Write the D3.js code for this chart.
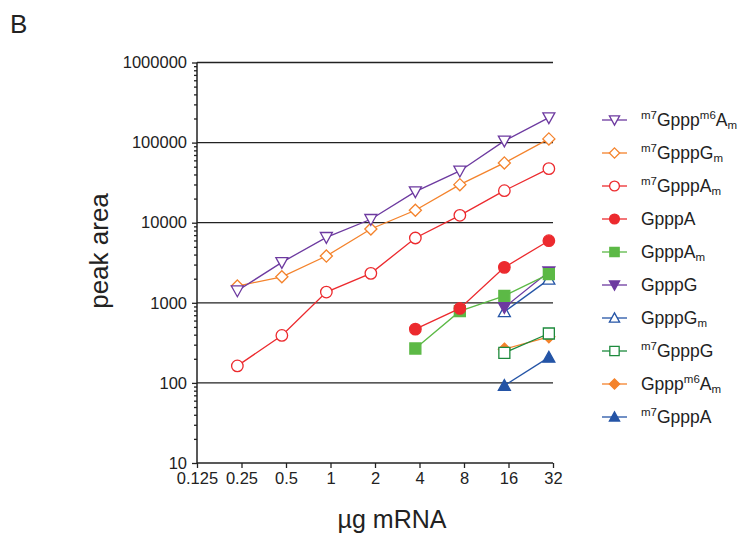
<!DOCTYPE html>
<html><head><meta charset="utf-8">
<script src="https://cdn.jsdelivr.net/npm/d3@7"></script>
<style>body{margin:0;background:#fff}svg{font-family:"Liberation Sans",Arial,sans-serif}</style>
</head><body><svg id="c" width="750" height="537"></svg>
<script>
const xDoses = [0.234375, 0.46875, 0.9375, 1.875, 3.75, 7.5, 15, 30];
const xTicks = [0.125, 0.25, 0.5, 1, 2, 4, 8, 16, 32];
const yTicks = [10, 100, 1000, 10000, 100000, 1000000];

const s_m7Gpppm6Am = [1413, 3200, 6570, 11030, 24400, 44260, 105000, 205000];
const s_m7GpppGm   = [1617, 2113, 3835, 8340, 14290, 29850, 55700, 111200];
const s_m7GpppAm   = [163, 391, 1361, 2330, 6440, 12370, 25100, 47300];
const s_GpppA      = [null, null, null, null, 469, 851, 2770, 5957];
const s_GpppAm     = [null, null, null, null, 269, 787, 1223, 2285];
const s_GpppG      = [null, null, null, null, null, null, 876, 2440];
const s_GpppGm     = [null, null, null, null, null, null, 772, 1961];
const s_m7GpppG    = [null, null, null, null, null, null, 237, 414];
const s_Gpppm6Am   = [null, null, null, null, null, null, 264, 376];
const s_m7GpppA    = [null, null, null, null, null, null, 92.8, 208];

// label parts: [text, 'sup'|'sub'|'']
const series = [
  {label:[["m7","sup"],["Gppp",""],["m6","sup"],["A",""],["m","sub"]], values:s_m7Gpppm6Am, color:"#6d3aa0", shape:"tridown", fill:false},
  {label:[["m7","sup"],["GpppG",""],["m","sub"]], values:s_m7GpppGm, color:"#f4832c", shape:"diamond", fill:false},
  {label:[["m7","sup"],["GpppA",""],["m","sub"]], values:s_m7GpppAm, color:"#ec2a2e", shape:"circle", fill:false},
  {label:[["GpppA",""]], values:s_GpppA, color:"#ec2a2e", shape:"circle", fill:true},
  {label:[["GpppA",""],["m","sub"]], values:s_GpppAm, color:"#5cb946", shape:"square", fill:true},
  {label:[["GpppG",""]], values:s_GpppG, color:"#6d3aa0", shape:"tridown", fill:true},
  {label:[["GpppG",""],["m","sub"]], values:s_GpppGm, color:"#2454a6", shape:"triup", fill:false},
  {label:[["m7","sup"],["GpppG",""]], values:s_m7GpppG, color:"#1d8a3d", shape:"square", fill:false},
  {label:[["Gppp",""],["m6","sup"],["A",""],["m","sub"]], values:s_Gpppm6Am, color:"#f4832c", shape:"diamond", fill:true},
  {label:[["m7","sup"],["GpppA",""]], values:s_m7GpppA, color:"#2454a6", shape:"triup", fill:true}
];

const svg = d3.select("#c");
const x = d3.scaleLog().base(2).domain([0.125, 32]).range([197, 553]);
const y = d3.scaleLog().domain([10, 1000000]).range([463, 62.5]);

// gridlines
svg.append("g").selectAll("line").data(yTicks.slice(1)).join("line")
  .attr("x1", 197).attr("x2", 553).attr("y1", d=>y(d)).attr("y2", d=>y(d))
  .attr("stroke", "#222").attr("stroke-width", 1.3);

// y axis with minor ticks
const minor = [];
for (let e = 1; e < 6; e++) for (let k = 2; k <= 9; k++) minor.push(k*Math.pow(10,e));
const yAxisG = svg.append("g").attr("transform","translate(197,0)");
yAxisG.call(d3.axisLeft(y).tickValues(minor).tickSize(3).tickFormat(""));
yAxisG.call(g=>g.select(".domain").remove());
const yMaj = svg.append("g").attr("transform","translate(197,0)")
  .call(d3.axisLeft(y).tickValues(yTicks).tickSize(5).tickPadding(5).tickFormat(d3.format("d")));
yMaj.select(".domain").attr("d", `M0,${y(1000000)}V${y(10)}`);
svg.selectAll("g .tick line").attr("stroke","#222").attr("stroke-width",1.3);
yMaj.select(".domain").attr("stroke","#222").attr("stroke-width",1.5);
yMaj.selectAll("text").attr("font-size",16.5).attr("fill","#222").attr("font-family","Liberation Sans, Arial, sans-serif");

// x axis
const xAx = svg.append("g").attr("transform","translate(0,463)")
  .call(d3.axisBottom(x).tickValues(xTicks).tickSize(5).tickPadding(4).tickFormat(d=>String(d)));
xAx.select(".domain").attr("d","M197,0H553").attr("stroke","#222").attr("stroke-width",1.5);
xAx.selectAll(".tick line").attr("stroke","#222").attr("stroke-width",1.3);
xAx.selectAll("text").attr("font-size",16.5).attr("fill","#222").attr("font-family","Liberation Sans, Arial, sans-serif");

// symbols
function symPath(shape, size) {
  const s = size;
  if (shape==="circle") return d3.symbol(d3.symbolCircle, s*s*Math.PI/4)();
  if (shape==="square") return `M${-s/2},${-s/2}h${s}v${s}h${-s}Z`;
  if (shape==="diamond") { const h=s*0.55; return `M0,${-h}L${h},0L0,${h}L${-h},0Z`; }
  if (shape==="triup") { const h=s*0.5; return `M0,${-h}L${h},${h*0.8}L${-h},${h*0.8}Z`; }
  if (shape==="tridown") { const h=s*0.5; return `M0,${h}L${h},${-h*0.8}L${-h},${-h*0.8}Z`; }
}
const sizes = {circle:11.5, square:11, diamond:11, triup:12, tridown:12};

// lines and points, drawn bottom series first
series.slice().reverse().forEach(s => {
  const pts = xDoses.map((d,i)=>({x:d, v:s.values[i]})).filter(p=>p.v!=null);
  svg.append("path").datum(pts)
    .attr("d", d3.line().x(p=>x(p.x)).y(p=>y(p.v)))
    .attr("fill","none").attr("stroke",s.color).attr("stroke-width",1.3);
  svg.append("g").selectAll("path").data(pts).join("path")
    .attr("transform", p=>`translate(${x(p.x)},${y(p.v)})`)
    .attr("d", symPath(s.shape, sizes[s.shape]))
    .attr("fill", s.fill ? s.color : "#fff")
    .attr("stroke", s.color).attr("stroke-width", 1.3);
});

// legend
const lg = svg.append("g");
series.forEach((s,i) => {
  const yy = 120 + i*33;
  lg.append("line").attr("x1",602).attr("x2",627).attr("y1",yy).attr("y2",yy)
    .attr("stroke",s.color).attr("stroke-width",1.3);
  lg.append("path").attr("transform",`translate(614.5,${yy})`)
    .attr("d", symPath(s.shape, sizes[s.shape]*0.85))
    .attr("fill", s.fill ? s.color : "#fff").attr("stroke",s.color).attr("stroke-width",1.3);
  const t = lg.append("text").attr("x",641).attr("y",yy+6).attr("font-size",17.5).attr("fill","#222");
  s.label.forEach(([txt,kind]) => {
    const ts = t.append("tspan").text(txt);
    if (kind==="sup") ts.attr("font-size",11.5).attr("baseline-shift","55%");
    if (kind==="sub") ts.attr("font-size",11.5).attr("baseline-shift","-25%");
  });
});

// titles
svg.append("text").attr("x",10).attr("y",33).attr("font-size",26).attr("fill","#222").text("B");
svg.append("text").attr("transform","translate(108,251) rotate(-90)").attr("text-anchor","middle")
  .attr("font-size",26).attr("fill","#222").text("peak area");
svg.append("text").attr("x",392).attr("y",528).attr("text-anchor","middle")
  .attr("font-size",25).attr("fill","#222").text("µg mRNA");
</script></body></html>
